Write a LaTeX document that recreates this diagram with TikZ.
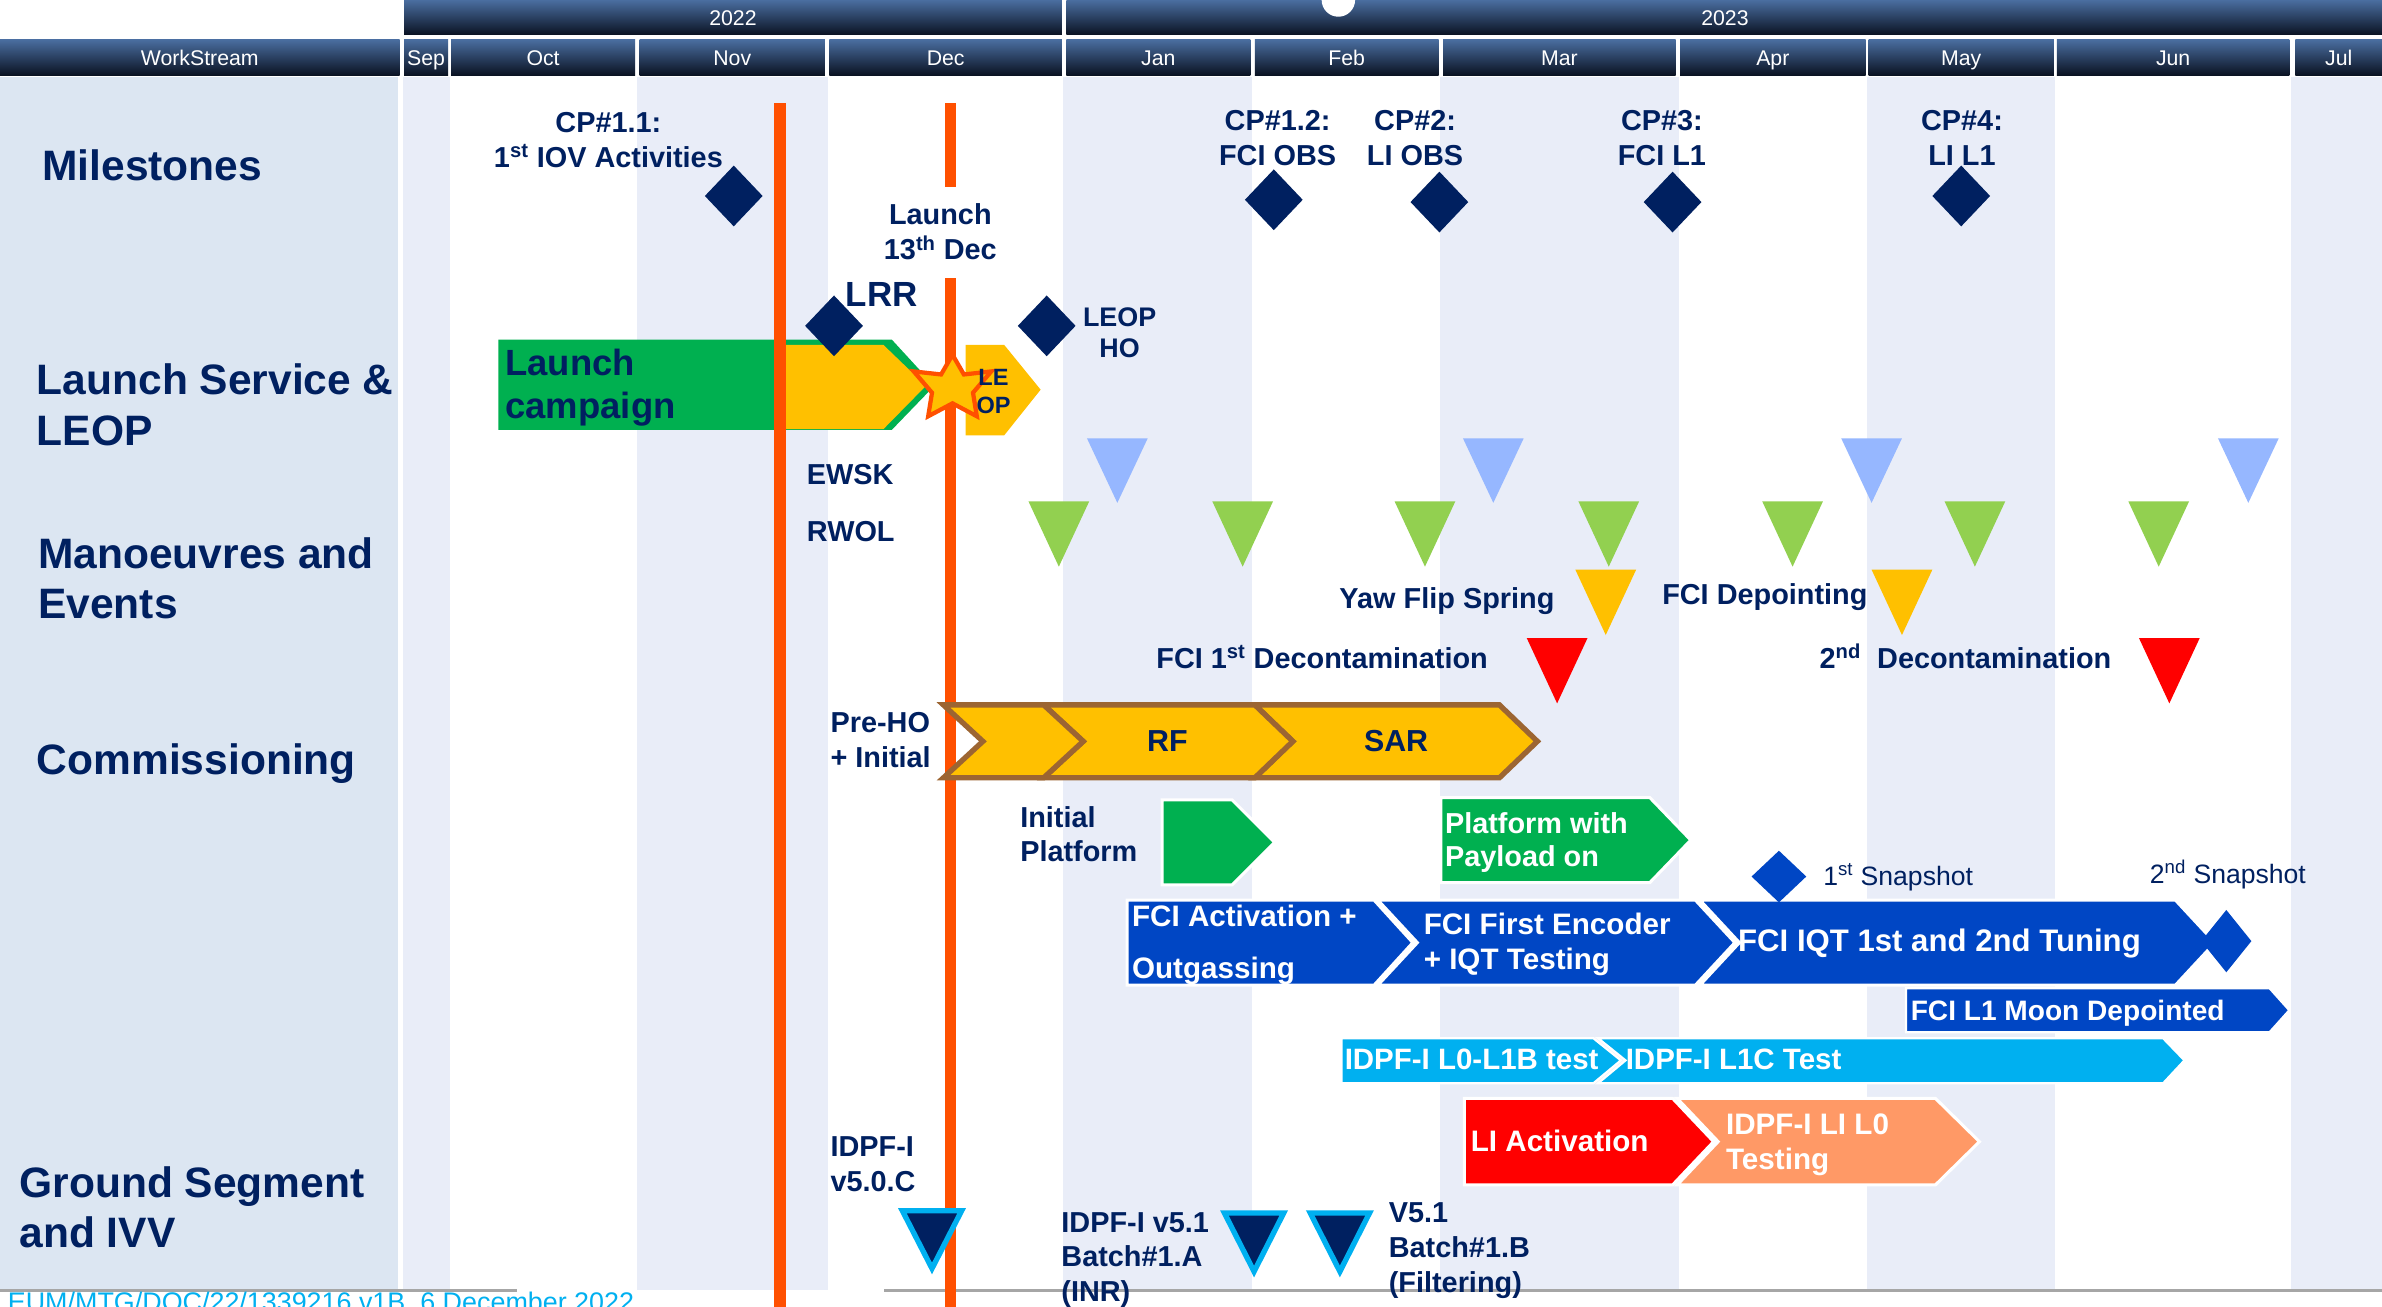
\documentclass[tikz,border=0pt]{standalone}
\usepackage{fontspec}
\setmainfont{Liberation Sans}
\usetikzlibrary{shapes.geometric}
\definecolor{navy}{RGB}{0,32,96}
\definecolor{panel}{RGB}{220,230,242}
\definecolor{stripe}{RGB}{233,237,248}
\definecolor{oline}{RGB}{255,80,0}
\definecolor{cgreen}{RGB}{0,176,80}
\definecolor{cyellow}{RGB}{255,192,0}
\definecolor{cblue}{RGB}{0,70,196}
\definecolor{ccyan}{RGB}{0,176,240}
\definecolor{cred}{RGB}{255,0,0}
\definecolor{csalmon}{RGB}{255,153,102}
\definecolor{lblue}{RGB}{150,183,255}
\definecolor{lgreen}{RGB}{146,208,80}
\definecolor{cbrown}{RGB}{156,101,50}
\definecolor{htop}{RGB}{74,110,160}
\definecolor{hbot}{RGB}{10,18,34}
\definecolor{gline}{RGB}{166,166,166}
\newcommand\DownTri[4]{\fill[#4] (#1-20,#2) -- (#1+20,#2) -- (#1,#3) -- cycle;}
\newcommand\MileDia[5]{\fill[#5] (#1-#3,#2) -- (#1,#2-#4) -- (#1+#3,#2) -- (#1,#2+#4) -- cycle;}
\begin{document}
\begin{tikzpicture}[x=1pt,y=-1pt,
  tx/.style={inner sep=0pt,text=navy,font=\bfseries\fontsize{19}{23}\selectfont,align=left},
  txc/.style={tx,align=center},
  big/.style={inner sep=0pt,text=navy,font=\bfseries\fontsize{28}{33}\selectfont,align=left},
  wt/.style={inner sep=0pt,text=white,font=\bfseries\fontsize{19.5}{23}\selectfont,align=left},
  rg/.style={inner sep=0pt,text=navy,font=\fontsize{17.5}{21}\selectfont},
  ht/.style={inner sep=0pt,text=white,font=\fontsize{14}{16}\selectfont,anchor=base},
  hdr/.style={top color=htop,bottom color=hbot},
  chev/.style={fill=cyellow,draw=cbrown,line width=3.5pt,line join=miter},
  bar/.style={draw=white,line width=2pt,line join=miter},
  gtri/.style={fill=navy,draw=ccyan,line width=3.5pt,line join=miter},
  olin/.style={draw=oline,line width=7.5pt},
  launchstar/.style={fill=cyellow,draw=oline,line width=2.8pt,line join=miter},
]
\clip (0,0) rectangle (1568,860.3);
\fill[white] (0,0) rectangle (1568,860.3);
% ---------- header ----------
\shade[hdr] (266,0) rectangle (699,23);
\shade[hdr] (702,0) rectangle (1568,23);
\fill[white] (881,0) circle (11);
\shade[hdr] (0,26) rectangle (263,49.5);
\shade[hdr] (266,26) rectangle (295,49.5);
\shade[hdr] (297,26) rectangle (418,49.5);
\shade[hdr] (421,26) rectangle (543,49.5);
\shade[hdr] (546,26) rectangle (699,49.5);
\shade[hdr] (702,26) rectangle (823,49.5);
\shade[hdr] (826,26) rectangle (947,49.5);
\shade[hdr] (950,26) rectangle (1103,49.5);
\shade[hdr] (1106,26) rectangle (1228,49.5);
\shade[hdr] (1230,26) rectangle (1352,49.5);
\shade[hdr] (1354,26) rectangle (1507,49.5);
\shade[hdr] (1511,26) rectangle (1568,49.5);
\node[ht] (y22) at (482.5,17) {2022};
\node[ht] (y23) at (1135.5,17) {2023};
\node[ht] (ws) at (131.5,43) {WorkStream};
\node[ht] (mSep) at (280.5,43) {Sep};
\node[ht] (mOct) at (357.5,43) {Oct};
\node[ht] (mNov) at (482,43) {Nov};
\node[ht] (mDec) at (622.5,43) {Dec};
\node[ht] (mJan) at (762.5,43) {Jan};
\node[ht] (mFeb) at (886.5,43) {Feb};
\node[ht] (mMar) at (1026.5,43) {Mar};
\node[ht] (mApr) at (1167,43) {Apr};
\node[ht] (mMay) at (1291,43) {May};
\node[ht] (mJun) at (1430.5,43) {Jun};
\node[ht] (mJul) at (1539.5,43) {Jul};
% ---------- background stripes ----------
\fill[panel] (0,51) rectangle (262,849);
\fill[stripe] (265,51) rectangle (296,849);
\fill[stripe] (419,51) rectangle (545,849);
\fill[stripe] (700,51) rectangle (824,849);
\fill[stripe] (948,51) rectangle (1105,849);
\fill[stripe] (1229,51) rectangle (1353,849);
\fill[stripe] (1508,51) rectangle (1568,849);
\draw[gline,line width=1.5pt] (0,849.5) -- (340,849.5);
\draw[gline,line width=1.5pt] (582,849.5) -- (1568,849.5);
\node[anchor=base west,inner sep=0pt,text=ccyan,font=\fontsize{17.7}{20}\selectfont] (footer) at (5,863) {EUM/MTG/DOC/22/1339216 v1B, 6 December 2022};
% ---------- left labels ----------
\node[big,anchor=base west] (lMil) at (27.7,118.5) {Milestones};
\node[big,anchor=base west] (lLau) at (24,293) {Launch Service \&\\LEOP};
\node[big,anchor=base west] (lMan) at (25,407) {Manoeuvres and\\Events};
\node[big,anchor=base west] (lCom) at (24,510) {Commissioning};
\node[big,anchor=base west] (lGro) at (12.6,821) {Ground Segment\\and IVV};
% ---------- launch campaign ----------
\fill[cgreen] (328,223.5) -- (587,223.5) -- (615,254) -- (587,283) -- (328,283) -- cycle;
\fill[cyellow] (517,227) -- (581.5,227) -- (609.5,254) -- (581.5,282.5) -- (517,282.5) -- cycle;
\fill[cyellow] (635.7,227) -- (661,227) -- (685,256.5) -- (661,286.6) -- (635.7,286.6) -- cycle;
\node[anchor=base west,inner sep=0pt,text=navy,font=\bfseries\fontsize{24}{28.5}\selectfont,align=left] (lcamp) at (332.5,275.5) {Launch\\campaign};
% ---------- orange lines ----------
\draw[olin] (513.5,68) -- (513.5,862);
\draw[olin] (625.7,68) -- (625.7,123);
\draw[olin] (625.7,183) -- (625.7,862);
\filldraw[launchstar] (627,233.5) -- (634.5,246.5) -- (652.5,244.5) -- (640.5,258.5) -- (643,274) -- (627,265.5) -- (611,274) -- (613.5,258.5) -- (601.5,244.5) -- (619.5,246.5) -- cycle;
\node[anchor=base,inner sep=0pt,text=navy,font=\bfseries\fontsize{15.5}{18.5}\selectfont,align=center] (leop) at (654,272) {LE\\OP};
% ---------- milestones ----------
\MileDia{483}{129}{19}{20}{navy}
\MileDia{838.5}{131.5}{19}{20}{navy}
\MileDia{947.5}{133}{19}{20}{navy}
\MileDia{1101}{133}{19}{20}{navy}
\MileDia{1291}{129}{19}{20}{navy}
\MileDia{549}{214.5}{19}{20}{navy}
\MileDia{689}{214.5}{19}{20}{navy}
\node[txc,anchor=base] (cp11) at (400.5,110) {CP\#1.1:\\1\textsuperscript{st} IOV Activities};
\node[txc,anchor=base] (cp12) at (841,109) {CP\#1.2:\\FCI OBS};
\node[txc,anchor=base] (cp2) at (931.5,109) {CP\#2:\\LI OBS};
\node[txc,anchor=base] (cp3) at (1094,109) {CP\#3:\\FCI L1};
\node[txc,anchor=base] (cp4) at (1291.5,109) {CP\#4:\\LI L1};
\node[txc,anchor=base] (launch) at (619,171) {Launch\\13\textsuperscript{th} Dec};
\node[tx,anchor=base west,font=\bfseries\fontsize{23}{26}\selectfont] (lrr) at (556.6,202) {LRR};
\node[txc,anchor=base,font=\bfseries\fontsize{17.7}{21}\selectfont] (leopho) at (737,235.6) {LEOP\\HO};
% ---------- manoeuvres ----------
\DownTri{735.5}{288.5}{331}{lblue}
\DownTri{983}{288.5}{331}{lblue}
\DownTri{1232}{288.5}{331}{lblue}
\DownTri{1480}{288.5}{331}{lblue}
\DownTri{697}{330}{373}{lgreen}
\DownTri{818}{330}{373}{lgreen}
\DownTri{938}{330}{373}{lgreen}
\DownTri{1059}{330}{373}{lgreen}
\DownTri{1180}{330}{373}{lgreen}
\DownTri{1300}{330}{373}{lgreen}
\DownTri{1421}{330}{373}{lgreen}
\DownTri{1057}{375}{418}{cyellow}
\DownTri{1252}{375}{418}{cyellow}
\DownTri{1025}{420}{463}{cred}
\DownTri{1428}{420}{463}{cred}
\node[tx,anchor=base west] (ewsk) at (531,319) {EWSK};
\node[tx,anchor=base west] (rwol) at (531,356.7) {RWOL};
\node[tx,anchor=base east] (yaw) at (1023.4,400.4) {Yaw Flip Spring};
\node[tx,anchor=base west] (fcidep) at (1094,398) {FCI Depointing};
\node[tx,anchor=base west] (deco1) at (761,440) {FCI 1\textsuperscript{st} Decontamination};
\node[tx,anchor=base west] (deco2) at (1197.6,440) {2\textsuperscript{nd}~ Decontamination};
% ---------- commissioning ----------
\filldraw[chev] (826,464) -- (987,464) -- (1012,488) -- (987,512) -- (826,512) -- (851,488) -- cycle;
\filldraw[chev] (687,464) -- (826,464) -- (851,488) -- (826,512) -- (687,512) -- (713,488) -- cycle;
\filldraw[chev] (621,464) -- (687,464) -- (713,488) -- (687,512) -- (621,512) -- (647,488) -- cycle;
\node[tx,anchor=base,font=\bfseries\fontsize{20}{23}\selectfont] (rf) at (768.5,495) {RF};
\node[tx,anchor=base,font=\bfseries\fontsize{20}{23}\selectfont] (sar) at (919,495) {SAR};
\node[tx,anchor=base west,font=\bfseries\fontsize{19}{22.6}\selectfont] (preho) at (546.5,505) {Pre-HO\\+ Initial};
\node[tx,anchor=base west,font=\bfseries\fontsize{19}{22.4}\selectfont] (initp) at (671.4,567) {Initial\\Platform};
\filldraw[fill=cgreen,bar] (765,526.5) -- (811,526.5) -- (839,554.5) -- (811,582.5) -- (765,582.5) -- cycle;
\filldraw[fill=cgreen,bar] (948.5,525) -- (1086,525) -- (1113,553) -- (1086,581) -- (948.5,581) -- cycle;
\node[wt,anchor=base west,font=\bfseries\fontsize{19}{22}\selectfont] (pwp) at (951,570.6) {Platform with\\Payload on};
% FCI row
\filldraw[fill=cblue,bar] (742,592.5) -- (904.5,592.5) -- (930,620.5) -- (904.5,648.5) -- (742,648.5) -- cycle;
\filldraw[fill=cblue,bar] (907,592.5) -- (1116,592.5) -- (1142,620.5) -- (1116,648.5) -- (907,648.5) -- (933,620.5) -- cycle;
\filldraw[fill=cblue,bar] (1119,592.5) -- (1432,592.5) -- (1458,620.5) -- (1432,648.5) -- (1119,648.5) -- (1145,620.5) -- cycle;
\MileDia{1171}{577}{18}{17}{cblue}
\MileDia{1465.5}{619.5}{16.5}{20.5}{cblue}
\node[wt,anchor=base west,font=\bfseries\fontsize{19.5}{34.4}\selectfont] (fciact) at (745,644) {FCI Activation +\\Outgassing};
\node[wt,anchor=base west] (fcifirst) at (937,638) {FCI First Encoder\\+ IQT Testing};
\node[wt,anchor=base west,font=\bfseries\fontsize{20.5}{23}\selectfont] (fciiqt) at (1144,626.6) {FCI IQT 1st and 2nd Tuning};
\node[rg,anchor=base west] (snap1) at (1200,582.6) {1\textsuperscript{st} Snapshot};
\node[rg,anchor=base west] (snap2) at (1415,581.3) {2\textsuperscript{nd} Snapshot};
\filldraw[fill=cblue,bar,line width=1.5pt] (1254.6,650.5) -- (1494,650.5) -- (1507,665) -- (1494,679.5) -- (1254.6,679.5) -- cycle;
\node[wt,anchor=base west,font=\bfseries\fontsize{18.5}{22}\selectfont] (moon) at (1257.6,671.5) {FCI L1 Moon Depointed};
% IDPF row
\filldraw[fill=ccyan,bar,line width=1.5pt] (883,683.5) -- (1049,683.5) -- (1067,698) -- (1049,713) -- (883,713) -- cycle;
\filldraw[fill=ccyan,bar,line width=1.5pt] (1052,683.5) -- (1424,683.5) -- (1438,698) -- (1424,713) -- (1052,713) -- (1070,698) -- cycle;
\node[wt,anchor=base west,font=\bfseries\fontsize{19.4}{23}\selectfont] (l0l1b) at (885,704) {IDPF-I L0-L1B test};
\node[wt,anchor=base west,font=\bfseries\fontsize{19.4}{23}\selectfont] (l1c) at (1070,704) {IDPF-I L1C Test};
% LI row
\filldraw[fill=cred,bar] (964,723) -- (1101,723) -- (1128,751.5) -- (1101,780) -- (964,780) -- cycle;
\filldraw[fill=csalmon,bar] (1104,723) -- (1274,723) -- (1303,751.5) -- (1274,780) -- (1104,780) -- (1131,751.5) -- cycle;
\node[wt,anchor=base west] (liact) at (968,758) {LI Activation};
\node[wt,anchor=base west] (lil0) at (1136,770) {IDPF-I LI L0\\Testing};
% ---------- ground segment ----------
\filldraw[gtri] (594,797) -- (633,797) -- (613.5,835) -- cycle;
\filldraw[gtri] (806,798.5) -- (845,798.5) -- (825.5,837) -- cycle;
\filldraw[gtri] (862.5,798.5) -- (901.5,798.5) -- (882,837) -- cycle;
\node[tx,anchor=base west] (v50c) at (546.5,784.6) {IDPF-I\\v5.0.C};
\node[tx,anchor=base west] (v51a) at (698.5,857) {IDPF-I v5.1\\Batch\#1.A\\(INR)};
\node[tx,anchor=base west,font=\bfseries\fontsize{19}{22.8}\selectfont] (v51b) at (914,850.6) {V5.1\\Batch\#1.B\\(Filtering)};
\end{tikzpicture}
\end{document}
